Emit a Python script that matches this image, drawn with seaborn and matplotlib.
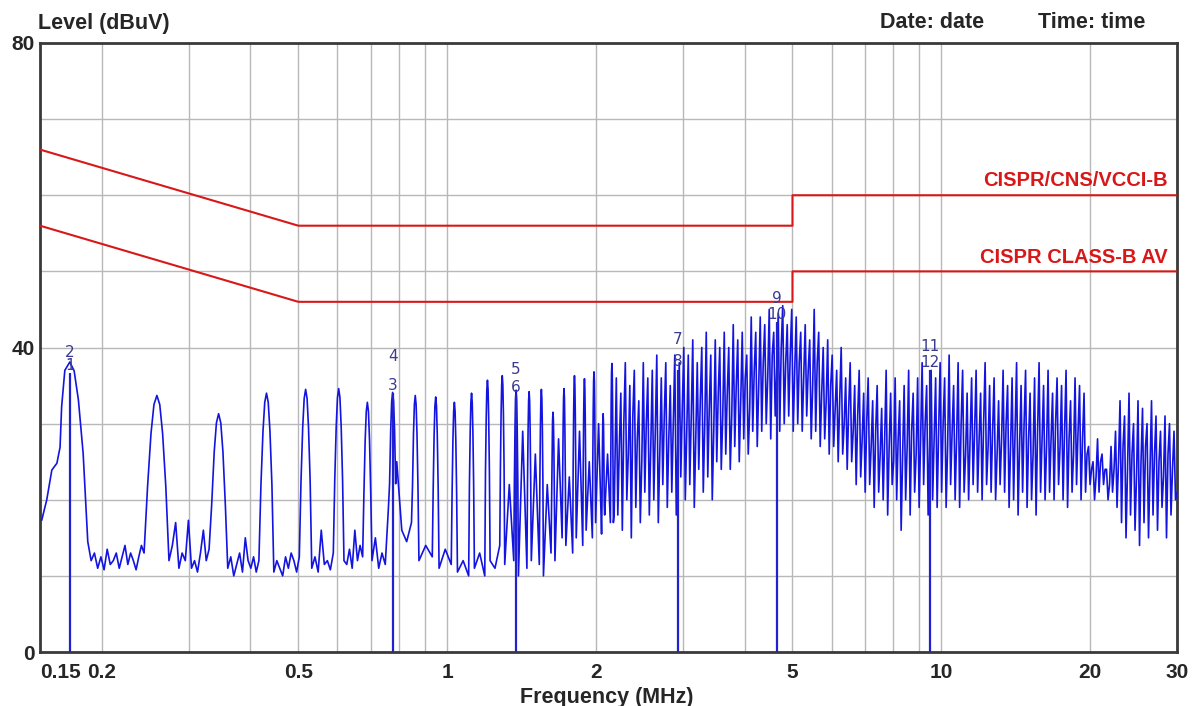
import numpy as np
import pandas as pd
import matplotlib
matplotlib.use("Agg")
import matplotlib.pyplot as plt
import seaborn as sns

# ---------------- data ----------------
fundamental_mhz = 0.0862
harmonic_order = list(range(2, 26))
harmonic_peak_db = [38.1, 33.7, 31.3, 34.0, 34.5, 34.6, 32.8, 34.1, 33.7, 33.5,
                    32.8, 34.0, 35.7, 36.3, 34.4, 34.2, 34.5, 31.5, 34.6, 36.3,
                    35.9, 36.8, 31.3, 37.9]
# noise floor readings between harmonic k and the next one
gap_floor_db = [
    [14.5, 12, 13, 11, 12.5, 10.8, 13.5, 11.5, 12, 13, 11, 12.5, 14, 11.5, 13, 12, 10.8, 12.5, 14, 13],
    [12, 14, 17, 11, 13, 12, 17.3, 11, 12, 10.5, 13, 16, 12, 13.5],
    [11, 12.5, 10, 11.5, 13, 10.5, 15, 12, 11, 12.5, 10.5, 12],
    [10.5, 12, 11, 10, 12.5, 11, 13, 12, 10.5, 12.5],
    [11, 12.5, 10.5, 16, 11.5, 12, 10.8, 13],
    [12, 11.5, 13.5, 11, 16, 12, 14, 12.5],
    [12, 15, 11, 13, 11.5, 19],
    [25, 16, 14.5, 17],
    [12, 14, 12.5],
    [11, 13.5, 11.5],
    [10.5, 12, 10],
    [11, 13, 10],
    [12, 11, 14],
    [11.5, 22, 12],
    [10, 29, 11],
    [12, 26, 11.5],
    [10, 22, 13],
    [12, 28, 15],
    [14, 23, 13],
    [15, 29, 14],
    [16, 25, 15],
    [17, 30, 15.5],
    [18, 26, 17],
    [17, 18],
]
lead_mhz = [0.1512, 0.1548, 0.1585, 0.1623, 0.1647, 0.1659, 0.1684]
lead_db = [17.3, 20.0, 23.9, 24.8, 26.9, 32.2, 37.0]

dense_start_mhz = 2.2
dense_stop_mhz = 30.0
stroke_top_db = [
    36, 34, 38, 35, 37, 33, 38, 36,
    37, 39, 36, 38, 35, 39, 38, 40,
    39, 41, 38, 40, 42, 39, 41, 40,
    42, 40, 43, 41, 42, 39, 44, 42,
    44, 43, 45, 42, 44.5, 45.5, 43, 45,
    44, 42, 43, 41, 45, 42, 40, 41,
    39, 37, 40, 36, 38, 35, 37, 34,
    36, 33, 35, 32, 37, 34, 36, 33,
    35, 37, 34, 36, 38, 35, 37, 36,
    38, 36, 39, 35, 38, 37, 34, 36,
    37, 34, 38, 35, 36, 33, 37, 35,
    36, 38, 35, 37, 34, 36, 38, 35,
    37, 34, 36, 35, 37, 33, 36, 35,
    34, 27, 25, 28, 26, 24, 27, 29,
    33, 31, 34, 30, 33, 32, 30, 33,
    31, 29, 31, 30, 29,
]
stroke_base_db = [
    18, 16, 20, 15, 19, 17, 21, 18,
    20, 17, 22, 19, 21, 18, 23, 20,
    22, 19, 24, 21, 23, 20, 25, 24,
    26, 24, 27, 25, 28, 26, 29, 27,
    29, 30, 28, 31, 29, 30, 31, 29,
    30, 29, 31, 28, 29, 27, 28, 26,
    27, 25, 26, 24, 25, 22, 23, 21,
    22, 19, 21, 20, 18, 22, 20, 16,
    20, 18, 21, 19, 22, 18, 20, 19,
    21, 19, 22, 20, 19, 21, 20, 22,
    21, 20, 22, 21, 20, 22, 21, 19,
    20, 18, 21, 19, 20, 18, 21, 20,
    21, 20, 22, 20, 19, 21, 22, 20,
    21, 22, 20, 21, 22, 20, 21, 19,
    17, 15, 18, 16, 14, 17, 15, 18,
    16, 19, 15, 18, 20,
]
stroke_mid_db = [
    27, 30, 26, 31, 28, 25, 30, 27,
    29, 26, 31, 28, 30, 27, 32, 29,
    31, 28, 33, 30, 32, 29, 34, 31,
    34, 31, 35, 33, 36, 32, 37, 35,
    38, 36, 39, 37, 40, 38, 39, 37,
    38, 36, 37, 35, 38, 34, 33, 35,
    32, 33, 30, 32, 29, 31, 28, 30,
    27, 29, 26, 28, 27, 25, 28, 26,
    27, 29, 26, 28, 30, 27, 28, 29,
    30, 27, 29, 28, 30, 26, 28, 29,
    28, 30, 27, 29, 26, 28, 30, 27,
    29, 27, 30, 28, 26, 29, 28, 27,
    28, 30, 27, 29, 28, 26, 29, 28,
    26, 24, 23, 25, 24, 22, 24, 25,
    27, 24, 26, 23, 25, 27, 24, 26,
    25, 23, 26, 24, 21,
]

qp_limit_mhz = [0.15, 0.5, 5, 5, 30]
qp_limit_db = [66, 56, 56, 60, 60]
av_limit_mhz = [0.15, 0.5, 5, 5, 30]
av_limit_db = [56, 46, 46, 50, 50]
limit_names = ["CISPR/CNS/VCCI-B", "CISPR CLASS-B AV"]

marker_ids = ["1", "2", "3", "4", "5", "6", "7", "8", "9", "10", "11", "12"]
marker_mhz = [0.1724, 0.1724, 0.776, 0.776, 1.379, 1.379, 2.93, 2.93, 4.65, 4.65, 9.48, 9.48]
marker_db = [37.7, 39.4, 35.0, 38.8, 37.1, 34.7, 41.1, 38.1, 46.5, 44.3, 40.1, 38.0]

xtick_mhz = [0.15, 0.2, 0.5, 1, 2, 5, 10, 20, 30]
xtick_labels = ["0.15", "0.2", "0.5", "1", "2", "5", "10", "20", "30"]
xminor_mhz = [0.3, 0.4, 0.6, 0.7, 0.8, 0.9, 3, 4, 6, 7, 8, 9]
ytick_db = [0, 40, 80]
yminor_db = [10, 20, 30, 50, 60, 70]

# ---------------- build trace ----------------
shape_khz = [-11, -7, -3.5, 0, 3.5, 7, 11]
shape_drop = [12, 5, 1.2, 0, 1.2, 5, 12]

freqs = list(lead_mhz)
levels = list(lead_db)
for j, k in enumerate(harmonic_order):
    fk = k * fundamental_mhz
    top = harmonic_peak_db[j]
    for off, drop in zip(shape_khz, shape_drop):
        if j == 0 and off < 0:
            continue
        freqs.append(fk + off / 1000.0)
        levels.append(top - drop)
    g = gap_floor_db[j]
    if j + 1 < len(harmonic_order):
        nxt = harmonic_order[j + 1] * fundamental_mhz - 0.015
    else:
        nxt = dense_start_mhz * 0.99
    xs = np.linspace(fk + 0.015, nxt, len(g))
    freqs.extend(xs)
    levels.extend(g)

n = len(stroke_top_db)
pos = np.geomspace(dense_start_mhz, dense_stop_mhz, 3 * n)
for i in range(n):
    freqs.append(pos[3 * i]); levels.append(stroke_top_db[i])
    freqs.append(pos[3 * i + 1]); levels.append(stroke_base_db[i])
    freqs.append(pos[3 * i + 2]); levels.append(stroke_mid_db[i])

trace = pd.DataFrame({"mhz": freqs, "db": levels})
qp = pd.DataFrame({"mhz": qp_limit_mhz, "db": qp_limit_db})
av = pd.DataFrame({"mhz": av_limit_mhz, "db": av_limit_db})

# ---------------- draw ----------------
sns.set_style("white")
plt.rcParams["font.family"] = ["Liberation Sans", "DejaVu Sans"]

W, H = 1192, 706
fig = plt.figure(figsize=(W / 100, H / 100), dpi=100)
L, R, T, B = 40, 1177, 43, 652
ax = fig.add_axes([L / W, 1 - B / H, (R - L) / W, (B - T) / H])

blue = "#1414e0"
red = "#d81818"

sns.lineplot(data=trace, x="mhz", y="db", ax=ax, sort=False, estimator=None,
             color=blue, lw=1.2, zorder=3)
sns.lineplot(data=qp, x="mhz", y="db", ax=ax, sort=False, estimator=None,
             color=red, lw=1.5, zorder=4)
sns.lineplot(data=av, x="mhz", y="db", ax=ax, sort=False, estimator=None,
             color=red, lw=1.5, zorder=4)

# marker lines
for i in range(0, len(marker_mhz), 2):
    top = min(marker_db[i], marker_db[i + 1]) - 1.0
    ax.vlines(marker_mhz[i], 0, top, color="#2222cc", lw=1.6, zorder=5)
for lab, f, d in zip(marker_ids, marker_mhz, marker_db):
    ax.text(f, d, lab, ha="center", va="center", fontsize=11, color="#3a3a90",
            family=["DejaVu Sans"], zorder=6)

ax.set_xscale("log")
ax.set_xlim(0.15, 30)
ax.set_ylim(0, 80)
ax.set_xticks(xtick_mhz)
ax.set_xticklabels(xtick_labels)
ax.set_xticks(xminor_mhz, minor=True)
ax.set_xticklabels([], minor=True)
ax.set_yticks(ytick_db)
ax.set_yticklabels([str(v) for v in ytick_db])
ax.set_yticks(yminor_db, minor=True)
ax.grid(True, which="both", color="#b8b8b8", lw=1.0, zorder=0)
ax.set_axisbelow(True)
ax.tick_params(axis="both", which="both", length=0)
ax.tick_params(axis="x", pad=8, labelsize=15)
ax.tick_params(axis="y", pad=4, labelsize=15)
for lbl in ax.get_xticklabels() + ax.get_yticklabels():
    lbl.set_fontweight("bold")
ax.get_xticklabels()[0].set_horizontalalignment("left")
ax.set_xlabel("")
ax.set_ylabel("")
for sp in ax.spines.values():
    sp.set_visible(True)
    sp.set_color("#3a3a3a")
    sp.set_linewidth(2)

# limit labels
trans = matplotlib.transforms.blended_transform_factory(ax.transAxes, ax.transData)
ax.text(0.992, 61.9, limit_names[0], transform=trans, ha="right", va="center",
        fontsize=14.5, fontweight="bold", color=red)
ax.text(0.992, 51.8, limit_names[1], transform=trans, ha="right", va="center",
        fontsize=14.5, fontweight="bold", color=red)

fig.text(38 / W, 1 - 24 / H, "Level (dBuV)", ha="left", va="center",
         fontsize=15.5, fontweight="bold")
fig.text(880 / W, 1 - 22 / H, "Date: date", ha="left", va="center",
         fontsize=15.5, fontweight="bold")
fig.text(1038 / W, 1 - 22 / H, "Time: time", ha="left", va="center",
         fontsize=15.5, fontweight="bold")
fig.text(607 / W, 1 - 697 / H, "Frequency (MHz)", ha="center", va="center",
         fontsize=15.5, fontweight="bold")

fig.savefig("out.png", dpi=100, facecolor="white")
